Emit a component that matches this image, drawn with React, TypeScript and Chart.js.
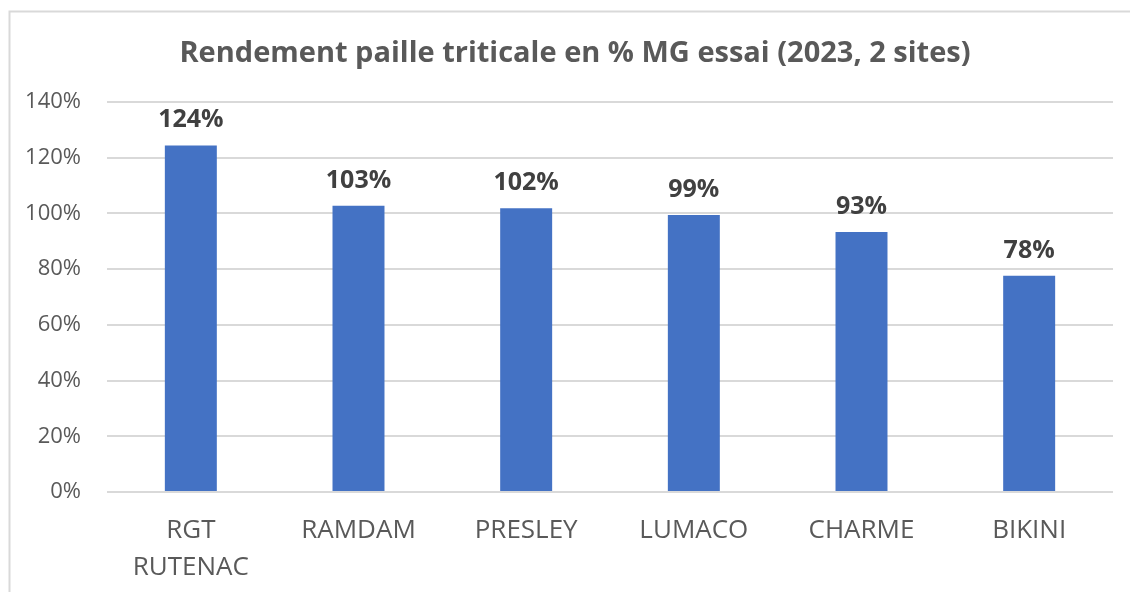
import React, { useEffect, useRef } from "react";
import { Chart, registerables } from "chart.js";

Chart.register(...registerables);

const TITLE = "Rendement paille triticale en % MG essai (2023, 2 sites)";
const categories: (string | string[])[] = [["RGT", "RUTENAC"], "RAMDAM", "PRESLEY", "LUMACO", "CHARME", "BIKINI"];
const values: number[] = [124.4, 102.8, 101.9, 99.4, 93.3, 77.6];
const yTicks: number[] = [0, 20, 40, 60, 80, 100, 120, 140];

const FONT = "'Open Sans', 'DejaVu Sans', sans-serif";
const TEXT = "#595959";
const LABEL = "#404040";
const BAR = "#4472C4";
const GRID = "#d9d9d9";

const decorPlugin = {
  id: "decor",
  beforeDraw(chart: any) {
    const ctx = chart.ctx;
    ctx.save();
    ctx.fillStyle = "#ffffff";
    ctx.fillRect(0, 0, chart.width, chart.height);
    ctx.strokeStyle = GRID;
    ctx.lineWidth = 2;
    ctx.beginPath();
    ctx.moveTo(9.5, chart.height);
    ctx.lineTo(9.5, 11.5);
    ctx.lineTo(chart.width, 11.5);
    ctx.stroke();
    ctx.fillStyle = TEXT;
    ctx.font = `bold 29px ${FONT}`;
    ctx.textAlign = "center";
    ctx.textBaseline = "alphabetic";
    ctx.fillText(TITLE, 575, 62);
    ctx.restore();
  },
  afterDatasetsDraw(chart: any) {
    const ctx = chart.ctx;
    const meta = chart.getDatasetMeta(0);
    ctx.save();
    ctx.fillStyle = LABEL;
    ctx.font = `bold 25px ${FONT}`;
    ctx.textAlign = "center";
    ctx.textBaseline = "alphabetic";
    meta.data.forEach((bar: any, i: number) => {
      ctx.fillText(`${Math.round(values[i])}%`, bar.x, bar.y - 18);
    });
    ctx.restore();
  },
};

export default function App() {
  const ref = useRef<HTMLCanvasElement | null>(null);
  useEffect(() => {
    if (!ref.current) return;
    const chart = new Chart(ref.current, {
      type: "bar",
      data: {
        labels: categories,
        datasets: [
          {
            data: values,
            backgroundColor: BAR,
            borderWidth: 0,
            barPercentage: 0.31,
            categoryPercentage: 1,
          },
        ],
      },
      options: {
        animation: false,
        responsive: false,
        maintainAspectRatio: false,
        layout: { padding: { top: 102, right: 17, left: 0, bottom: 0 } },
        plugins: {
          legend: { display: false },
          title: { display: false },
          tooltip: { enabled: false },
        },
        scales: {
          x: {
            grid: { display: false, drawTicks: false },
            border: { display: false },
            ticks: {
              color: TEXT,
              font: { family: FONT, size: 26, lineHeight: 1.42 },
              padding: 20,
              maxRotation: 0,
              autoSkip: false,
            },
            afterFit(scale: any) {
              scale.height = 100;
            },
          },
          y: {
            min: 0,
            max: 140,
            afterBuildTicks(scale: any) {
              scale.ticks = yTicks.map((v) => ({ value: v }));
            },
            grid: { color: GRID, lineWidth: 2, drawTicks: false },
            border: { display: false },
            ticks: {
              color: TEXT,
              font: { family: FONT, size: 22 },
              padding: 26,
              callback: (v: any) => `${v}%`,
            },
            afterFit(scale: any) {
              scale.width = 107;
            },
          },
        },
      },
      plugins: [decorPlugin],
    });
    return () => chart.destroy();
  }, []);
  return (
    <div style={{ position: "fixed", left: 0, top: 0, width: 1130, height: 592, background: "#fff" }}>
      <canvas ref={ref} width={1130} height={592} style={{ display: "block" }} />
    </div>
  );
}
